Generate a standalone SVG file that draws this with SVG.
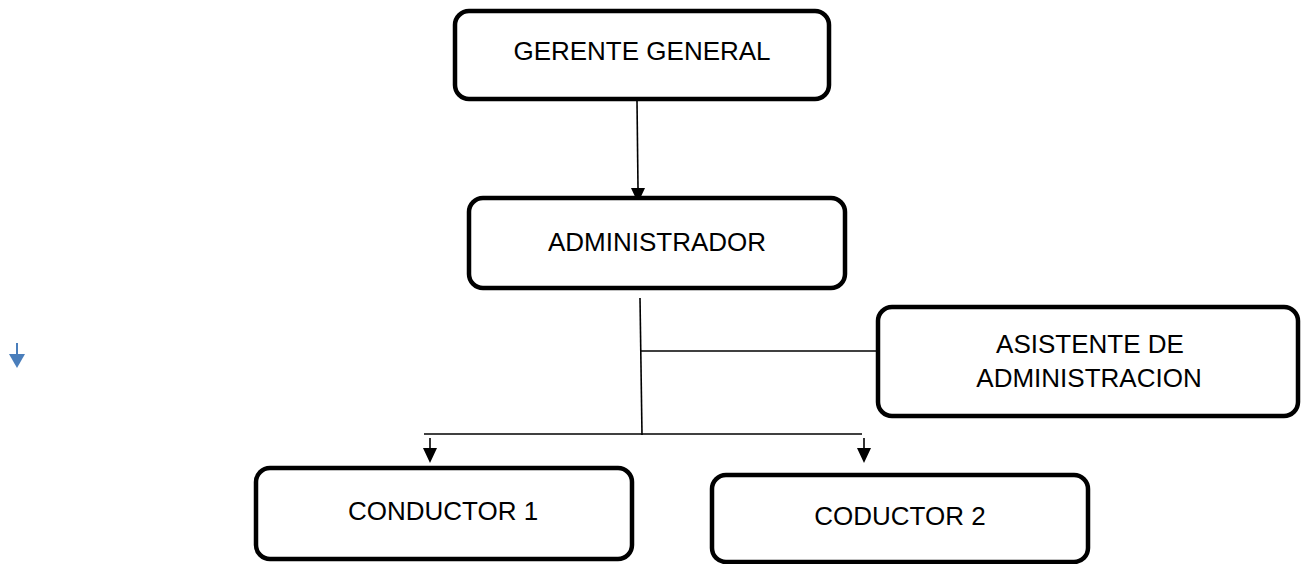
<svg xmlns="http://www.w3.org/2000/svg" width="1308" height="564" viewBox="0 0 1308 564">
<style>
.box{fill:#fff;stroke:#000;stroke-width:4.5}
.lbl{font-family:"Liberation Sans",Arial,sans-serif;font-size:26px;fill:#000;text-anchor:middle}
.con{stroke:#000;stroke-width:1.6;fill:none}
</style>
<defs>
<marker id="ah" markerUnits="userSpaceOnUse" markerWidth="14" markerHeight="16" refX="7" refY="15" orient="auto-start-reverse" viewBox="0 0 14 16">
<path d="M0,0 L14,0 L7,15 Z" fill="#000"/>
</marker>
</defs>
<rect width="1308" height="564" fill="#fff"/>
<g id="connectors">
<line class="con" x1="637" y1="101" x2="638" y2="188"/>
<path d="M631,188 L645,188 L638,203 Z" fill="#000"/>
<line class="con" x1="640" y1="298" x2="642" y2="435"/>
<line class="con" x1="641" y1="351" x2="878" y2="351"/>
<line class="con" x1="424" y1="434" x2="862" y2="434"/>
<line class="con" x1="430" y1="438" x2="430" y2="450"/>
<path d="M423,448 L437,448 L430,463 Z" fill="#000"/>
<line class="con" x1="864" y1="438" x2="864" y2="450"/>
<path d="M857,448 L871,448 L864,463 Z" fill="#000"/>
</g>
<g id="stray-arrow">
<line x1="17" y1="343" x2="17" y2="356" stroke="#4a7ebb" stroke-width="2"/>
<path d="M9,354 L25,354 L17,368 Z" fill="#4a7ebb"/>
</g>
<g id="gerente">
<rect class="box" x="455" y="11" width="374" height="88" rx="14"/>
<text class="lbl" x="642" y="60">GERENTE GENERAL</text>
</g>
<g id="administrador">
<rect class="box" x="469" y="198" width="376" height="90" rx="14"/>
<text class="lbl" x="657" y="251">ADMINISTRADOR</text>
</g>
<g id="asistente">
<rect class="box" x="878" y="307" width="420" height="109" rx="14"/>
<text class="lbl" x="1090" y="353">ASISTENTE DE</text>
<text class="lbl" x="1089" y="387">ADMINISTRACION</text>
</g>
<g id="conductor1">
<rect class="box" x="256" y="468" width="376" height="91" rx="14"/>
<text class="lbl" x="443" y="520">CONDUCTOR 1</text>
</g>
<g id="conductor2">
<rect class="box" x="712" y="475" width="376" height="87" rx="14"/>
<text class="lbl" x="900" y="525">CODUCTOR 2</text>
</g>
</svg>
